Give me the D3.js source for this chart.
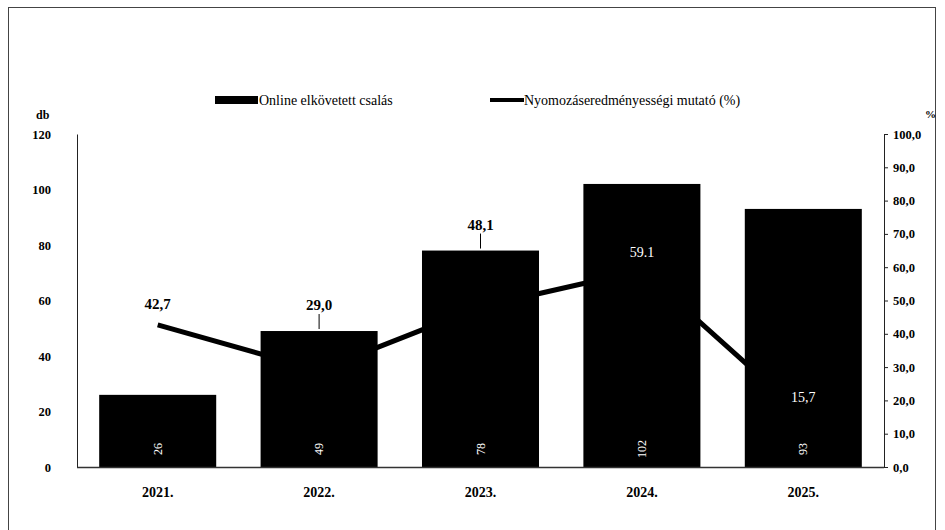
<!DOCTYPE html>
<html><head><meta charset="utf-8">
<script src="https://cdn.jsdelivr.net/npm/d3@7"></script>
<style>body{margin:0;background:#fff}svg{display:block}text{font-family:"Liberation Serif","Times New Roman",serif}</style>
</head><body>
<svg id="c" width="945" height="530"></svg>
<script>
const years = ["2021.","2022.","2023.","2024.","2025."];
const cases = [26,49,78,102,93];
const rate = [42.7,29.0,48.1,59.1,15.7];
const rateLabels = ["42,7","29,0","48,1","59.1","15,7"];
const leftTicks = [0,20,40,60,80,100,120];
const rightTicks = [0,10,20,30,40,50,60,70,80,90,100];
const seriesNames = ["Online elkövetett csalás","Nyomozáseredményességi mutató (%)"];

const svg = d3.select("#c");
const L = 77, R = 884, T = 134, B = 467;
const x = d3.scaleBand().domain(years).range([L,R]).paddingInner(0.275).paddingOuter(0.1375);
const yL = d3.scaleLinear().domain([0,120]).range([B,T]);
const yR = d3.scaleLinear().domain([0,100]).range([B,T]);

// frame
svg.append("rect").attr("x",8.5).attr("y",7.5).attr("width",927).attr("height",540)
  .attr("fill","none").attr("stroke","#444").attr("stroke-width",1);

// legend
svg.append("rect").attr("x",215).attr("y",96).attr("width",43).attr("height",8).attr("fill","#000");
svg.append("text").attr("x",259).attr("y",105).attr("font-size",14).text(seriesNames[0]);
svg.append("line").attr("x1",490).attr("x2",524).attr("y1",100).attr("y2",100).attr("stroke","#000").attr("stroke-width",4);
svg.append("text").attr("x",524).attr("y",105).attr("font-size",14).text(seriesNames[1]);

// unit labels
svg.append("text").attr("x",36).attr("y",119).attr("font-size",12).attr("font-weight","bold").text("db");
svg.append("text").attr("x",925).attr("y",118).attr("font-size",11).attr("font-weight","bold").text("%");

// left axis
const gL = svg.append("g").attr("transform",`translate(${L},0)`)
  .call(d3.axisLeft(yL).tickValues(leftTicks).tickSize(0).tickPadding(26).tickFormat(d3.format("d")));
gL.select(".domain").attr("stroke","#222");
gL.selectAll("text").attr("font-size",12.5).attr("font-weight","bold").attr("font-family","Liberation Serif").attr("fill","#000");

// right axis
const gR = svg.append("g").attr("transform",`translate(${R},0)`)
  .call(d3.axisRight(yR).tickValues(rightTicks).tickSize(4).tickPadding(5).tickFormat(d => d3.format(".1f")(d).replace(".",",")));
gR.select(".domain").attr("stroke","#222");
gR.selectAll("line").attr("stroke","#222");
gR.selectAll("text").attr("font-size",12.5).attr("font-weight","bold").attr("font-family","Liberation Serif").attr("fill","#000");

// line (behind bars)
const line = d3.line().x((d,i)=>x(years[i])+x.bandwidth()/2).y(d=>yR(d));
svg.append("path").datum(rate).attr("d",line).attr("fill","none").attr("stroke","#000").attr("stroke-width",5).attr("stroke-linejoin","round");

// bars
svg.selectAll("rect.bar").data(cases).join("rect").attr("class","bar")
  .attr("x",(d,i)=>x(years[i])).attr("width",x.bandwidth())
  .attr("y",d=>yL(d)).attr("height",d=>B-yL(d)).attr("fill","#000");

// x baseline
svg.append("line").attr("x1",L).attr("x2",R).attr("y1",B+0.5).attr("y2",B+0.5).attr("stroke","#333").attr("stroke-width",1.5);

// x labels
svg.selectAll("text.xl").data(years).join("text").attr("class","xl")
  .attr("x",d=>x(d)+x.bandwidth()/2).attr("y",497).attr("text-anchor","middle")
  .attr("font-size",14).attr("font-weight","bold").text(d=>d);

// bar value labels (rotated)
svg.selectAll("text.bv").data(cases).join("text").attr("class","bv")
  .attr("transform",(d,i)=>`translate(${x(years[i])+x.bandwidth()/2+4},${B-18}) rotate(-90)`)
  .attr("text-anchor","middle").attr("font-size",12).attr("fill","#fff").text(d=>d);

// line value labels
const aboveBar = new Set([1,2]);
rate.forEach((v,i)=>{
  const cx = x(years[i])+x.bandwidth()/2;
  if (aboveBar.has(i)) {
    const top = yL(cases[i]);
    svg.append("text").attr("x",cx).attr("y",top-21).attr("text-anchor","middle")
      .attr("font-size",15).attr("font-weight","bold").text(rateLabels[i]);
    svg.append("line").attr("x1",cx).attr("x2",cx).attr("y1",top-17).attr("y2",top-2).attr("stroke","#000").attr("stroke-width",1);
  } else {
    const inside = yR(v) > yL(cases[i]);
    svg.append("text").attr("x",cx).attr("y",yR(v)-(inside?13:16)).attr("text-anchor","middle")
      .attr("font-size",inside?14:15).attr("font-weight",inside?"normal":"bold")
      .attr("fill",inside?"#fff":"#000").text(rateLabels[i]);
  }
});
</script>
</body></html>
